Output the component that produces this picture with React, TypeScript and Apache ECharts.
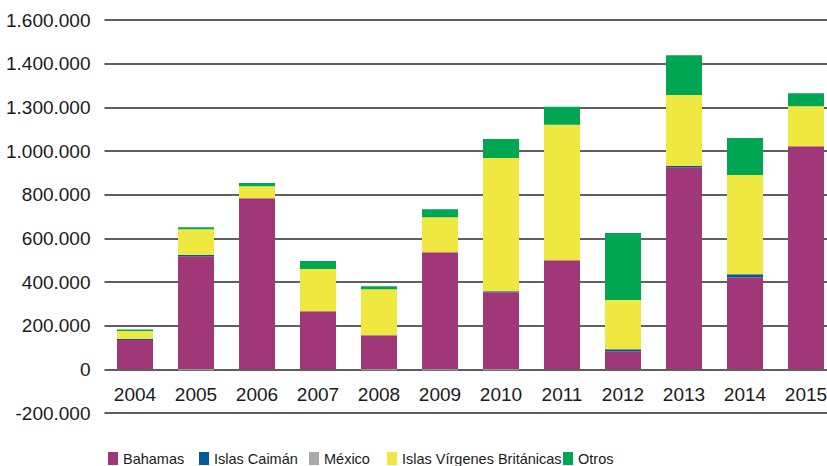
import React, { useEffect, useRef } from "react";
import * as echarts from "echarts";

const years = ["2004", "2005", "2006", "2007", "2008", "2009", "2010", "2011", "2012", "2013", "2014", "2015"];
const bahamas = [134000, 518000, 784000, 266000, 156000, 536000, 353000, 500000, 83000, 926000, 422000, 1022000];
const islasCaiman = [5000, 6000, 0, 0, 0, 0, 5000, 0, 9000, 5000, 14000, 0];
const mexico = [0, -4000, 0, 0, -4000, -4000, -4000, 0, 0, 0, 0, 0];
const islasVirgenes = [37000, 118000, 55000, 193000, 211000, 160000, 610000, 620000, 225000, 325000, 454000, 183000];
const otros = [7000, 9000, 14000, 37000, 14000, 37000, 87000, 83000, 307000, 183000, 170000, 60000];

const yMin = -200000;
const yMax = 1600000;
const yStep = 200000;
const yTickLabels = ["-200.000", "0", "200.000", "400.000", "600.000", "800.000", "1.000.000", "1.300.000", "1.400.000", "1.600.000"];

const seriesNames = ["Bahamas", "Islas Caimán", "México", "Islas Vírgenes Británicas", "Otros"];
const seriesColors = ["#A03778", "#005B9A", "#A7A9AC", "#EEE841", "#00A651"];
const seriesData = [bahamas, islasCaiman, mexico, islasVirgenes, otros];
const legendLefts = [108, 199, 309, 387, 563];

const FONT = "'Liberation Sans', Arial, Helvetica, sans-serif";
const LINE_COLOR = "#2a2a2a";

const GRID_TOP = 20;
const GRID_BOTTOM = 53;
const PLOT_H = 466 - GRID_TOP - GRID_BOTTOM;

export default function App() {
  const ref = useRef<HTMLDivElement>(null);
  useEffect(() => {
    if (!ref.current) return;
    const chart = echarts.init(ref.current, null, { renderer: "svg" });
    // move the category axis from the bottom edge up to the zero line
    const zeroOffset = -PLOT_H * ((0 - yMin) / (yMax - yMin));
    chart.setOption({
      animation: false,
      backgroundColor: "#ffffff",
      grid: {
        left: 104.5,
        right: -9.5,
        top: GRID_TOP,
        bottom: GRID_BOTTOM,
        containLabel: false,
        outerBoundsMode: "none",
      },
      legend: seriesNames.map((n, i) => ({
        data: [n],
        left: legendLefts[i],
        top: 451,
        padding: 0,
        itemWidth: 10,
        itemHeight: 13,
        icon: "rect",
        selectedMode: false,
        textStyle: { fontFamily: FONT, fontSize: 14.5, color: "#1a1a1a" },
      })),
      xAxis: {
        type: "category",
        data: years,
        offset: zeroOffset,
        axisLine: { show: false, onZero: false },
        axisTick: { show: false },
        axisLabel: { interval: 0, fontFamily: FONT, fontSize: 19, color: "#1a1a1a", margin: 16 },
      },
      yAxis: {
        type: "value",
        min: yMin,
        max: yMax,
        interval: yStep,
        axisLine: { show: false },
        axisTick: { show: false },
        splitLine: { show: true, lineStyle: { color: LINE_COLOR, width: 1.6 } },
        axisLabel: {
          fontFamily: FONT,
          fontSize: 19,
          color: "#1a1a1a",
          margin: 14,
          formatter: (v: number) => yTickLabels[Math.round((v - yMin) / yStep)] ?? "",
        },
      },
      series: seriesNames.map((n, i) => ({
        name: n,
        type: "bar",
        stack: "total",
        barWidth: 36,
        data: seriesData[i],
        itemStyle: { color: seriesColors[i] },
      })),
    });
    return () => chart.dispose();
  }, []);
  return (
    <div
      ref={ref}
      style={{ position: "fixed", left: 0, top: 0, width: 827, height: 466, background: "#fff" }}
    />
  );
}
